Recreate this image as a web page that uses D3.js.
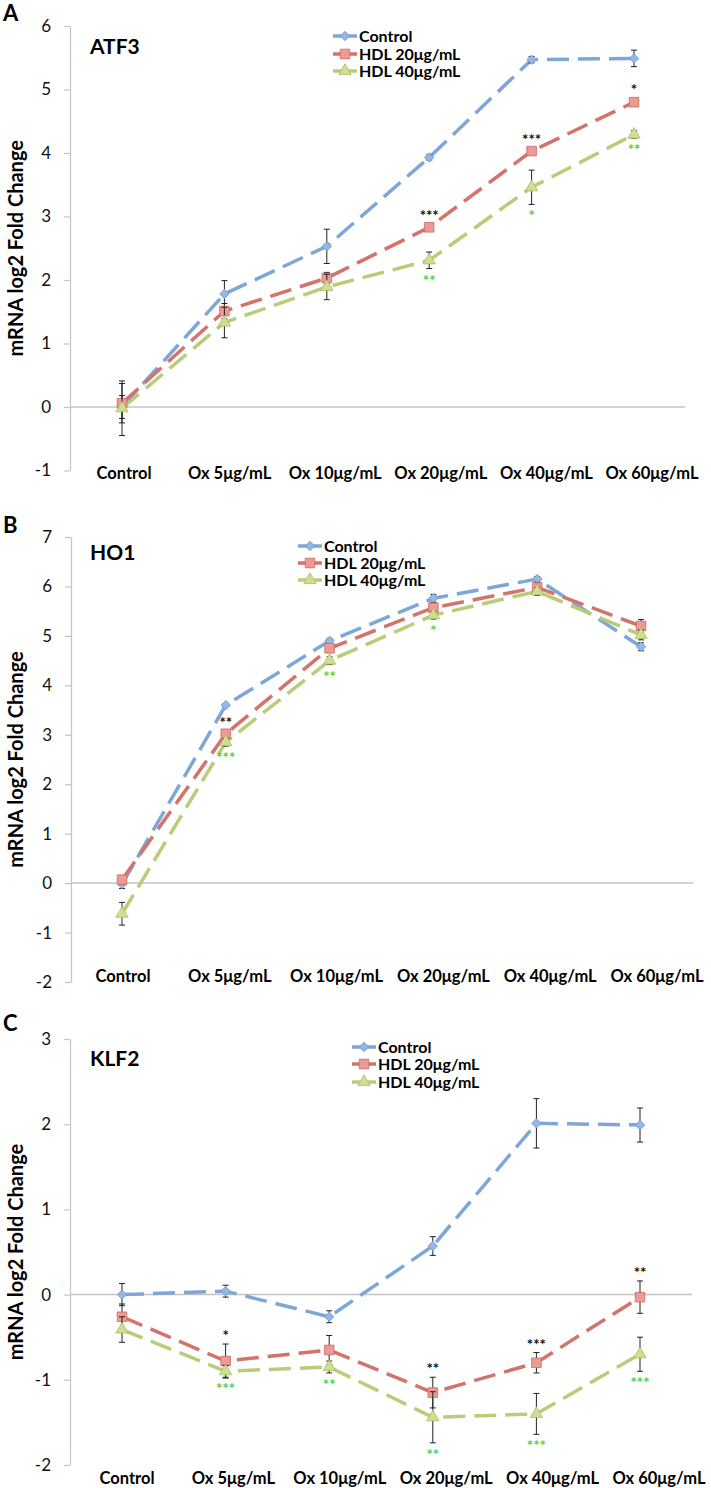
<!DOCTYPE html>
<html><head><meta charset="utf-8">
<script src="https://cdn.jsdelivr.net/npm/d3@7"></script>
<style>
body{margin:0;background:#fff}
svg{display:block}
text{font-family:Lato,"Open Sans",sans-serif}
</style>
</head><body>
<svg id="chart" width="711" height="1488"></svg>
<script>
// ---------- DATA ----------
const categories = ["Control","Ox 5μg/mL","Ox 10μg/mL","Ox 20μg/mL","Ox 40μg/mL","Ox 60μg/mL"];
const seriesNames = ["Control","HDL 20μg/mL","HDL 40μg/mL"];
const yTitle = "mRNA log2 Fold Change";

const atf3Ticks = [-1,0,1,2,3,4,5,6];
const atf3Control    = [0.00,1.78,2.53,3.93,5.47,5.49];
const atf3ControlErr = [0.18,0.21,0.27,0.04,0.05,0.13];
const atf3Hdl20      = [0.06,1.51,2.03,2.83,4.03,4.80];
const atf3Hdl20Err   = [0.31,0.12,0.09,0.05,0.05,0.06];
const atf3Hdl40      = [-0.02,1.33,1.89,2.31,3.46,4.29];
const atf3Hdl40Err   = [0.43,0.24,0.20,0.13,0.27,0.06];
const atf3StarsHdl20 = ["","","","***","***","*"];
const atf3StarsHdl40 = ["","","","**","*","**"];

const ho1Ticks = [-2,-1,0,1,2,3,4,5,6,7];
const ho1Control    = [-0.02,3.60,4.90,5.76,6.15,4.78];
const ho1ControlErr = [0.09,0.03,0.05,0.08,0.05,0.08];
const ho1Hdl20      = [0.07,3.02,4.75,5.57,5.98,5.20];
const ho1Hdl20Err   = [0.05,0.05,0.06,0.10,0.10,0.13];
const ho1Hdl40      = [-0.62,2.85,4.50,5.42,5.90,5.02];
const ho1Hdl40Err   = [0.23,0.08,0.08,0.08,0.08,0.10];
const ho1StarsHdl20 = ["","**","","","",""];
const ho1StarsHdl40 = ["","***","**","*","",""];

const klf2Ticks = [-2,-1,0,1,2,3];
const klf2Control    = [0.00,0.04,-0.26,0.57,2.01,1.99];
const klf2ControlErr = [0.13,0.07,0.07,0.11,0.29,0.20];
const klf2Hdl20      = [-0.26,-0.78,-0.65,-1.15,-0.80,-0.03];
const klf2Hdl20Err   = [0.15,0.20,0.17,0.18,0.12,0.19];
const klf2Hdl40      = [-0.41,-0.90,-0.85,-1.44,-1.40,-0.70];
const klf2Hdl40Err   = [0.15,0.07,0.07,0.30,0.24,0.20];
const klf2StarsHdl20 = ["","*","","**","***","**"];
const klf2StarsHdl40 = ["","***","**","**","***","***"];

// ---------- STYLE / LAYOUT ----------
const lineColors   = ["#7ea6d8","#d2736c","#b9cd78"];
const markerFills  = ["#93b8e6","#ec9a94","#cde08e"];
const markerStroke = ["#6f97cc","#c86a63","#a9bd68"];
const starColors   = ["#111111","#5ccc3a"];
const axisColor = "#c4c4c4";

const panels = [
  {letter:"A", letterY:21, gene:"ATF3", geneY:54, axisX:70, yTop:26, yBottom:470.5,
   ticks:atf3Ticks, values:[atf3Control,atf3Hdl20,atf3Hdl40], errs:[atf3ControlErr,atf3Hdl20Err,atf3Hdl40Err],
   stars:[atf3StarsHdl20,atf3StarsHdl40], xRange:[122,634], labelRange:[124,652], labelY:479, zeroEnd:685,
   legendX:333, legendY:[36,54,71]},
  {letter:"B", letterY:533, gene:"HO1", geneY:560, axisX:71, yTop:537, yBottom:982,
   ticks:ho1Ticks, values:[ho1Control,ho1Hdl20,ho1Hdl40], errs:[ho1ControlErr,ho1Hdl20Err,ho1Hdl40Err],
   stars:[ho1StarsHdl20,ho1StarsHdl40], xRange:[122,641], labelRange:[123,657], labelY:982, zeroEnd:693,
   legendX:298, legendY:[546,563,580]},
  {letter:"C", letterY:1031, gene:"KLF2", geneY:1066, axisX:70, yTop:1039, yBottom:1465,
   ticks:klf2Ticks, values:[klf2Control,klf2Hdl20,klf2Hdl40], errs:[klf2ControlErr,klf2Hdl20Err,klf2Hdl40Err],
   stars:[klf2StarsHdl20,klf2StarsHdl40], xRange:[122,640], labelRange:[127,659], labelY:1484, zeroEnd:692,
   legendX:352, legendY:[1047,1064,1082]}
];

const svg = d3.select("#chart");
svg.append("rect").attr("width",711).attr("height",1488).attr("fill","#fff");

const symbolGens = [
  d3.symbol().type(d3.symbolSquare).size(44),   // rotated -> diamond
  d3.symbol().type(d3.symbolSquare).size(92),
  d3.symbol().type(d3.symbolTriangle).size(66)
];
function drawMarker(g, si, x, y){
  g.append("path")
    .attr("d", symbolGens[si]())
    .attr("transform", `translate(${x},${y})` + (si===0 ? " rotate(45)" : ""))
    .attr("fill", markerFills[si])
    .attr("stroke", markerStroke[si])
    .attr("stroke-width", 0.8);
}

panels.forEach(p => {
  const g = svg.append("g");
  const lo = d3.min(p.ticks), hi = d3.max(p.ticks);
  const y = d3.scaleLinear().domain([lo,hi]).range([p.yBottom,p.yTop]);
  const x = d3.scalePoint().domain(categories).range(p.xRange);
  const xl = d3.scalePoint().domain(categories).range(p.labelRange);

  // panel letter
  g.append("text").attr("x",3).attr("y",p.letterY).text(p.letter)
    .attr("font-size",22).attr("font-weight","bold").attr("fill","#000");

  // y axis
  const ax = g.append("g").attr("transform",`translate(${p.axisX},0)`)
    .call(d3.axisLeft(y).tickValues(p.ticks).tickSize(6).tickSizeOuter(0).tickPadding(13).tickFormat(d3.format("d")));
  ax.select(".domain").attr("stroke",axisColor).attr("stroke-width",1.2);
  ax.selectAll(".tick line").attr("stroke",axisColor).attr("stroke-width",1.2);
  ax.selectAll(".tick text").attr("font-size",17).attr("fill","#111")
    .attr("font-family","Lato,sans-serif").text(d => d < 0 ? "-" + Math.abs(d) : d);

  // zero line
  g.append("line").attr("x1",p.axisX).attr("x2",p.zeroEnd).attr("y1",y(0)).attr("y2",y(0))
    .attr("stroke",axisColor).attr("stroke-width",1.5);

  // y title
  g.append("text").attr("transform",`translate(23,${(p.yTop+p.yBottom)/2}) rotate(-90)`)
    .attr("text-anchor","middle").attr("font-size",20).attr("font-weight","bold").text(yTitle);

  // gene label
  g.append("text").attr("x",90).attr("y",p.geneY).text(p.gene)
    .attr("font-size",21).attr("font-weight","bold");

  // category labels
  g.selectAll(".cat").data(categories).join("text")
    .attr("x",d=>xl(d)).attr("y",p.labelY).attr("text-anchor","middle")
    .attr("font-size",16.5).attr("font-weight","bold").text(d=>d);

  // series
  p.values.forEach((vals, si) => {
    const pts = categories.map((c,i)=>({c, v:vals[i], e:p.errs[si][i]}));
    const line = d3.line().x(d=>x(d.c)).y(d=>y(d.v));
    g.append("path").datum(pts).attr("d",line).attr("fill","none")
      .attr("stroke",lineColors[si]).attr("stroke-width",3.5)
      .attr("stroke-dasharray","22,9").attr("stroke-linecap","butt");
  });
  p.values.forEach((vals, si) => {
    const pts = categories.map((c,i)=>({c, v:vals[i], e:p.errs[si][i]}));
    pts.forEach(d => {
      const cx = x(d.c);
      const y1 = y(d.v + d.e), y2 = y(d.v - d.e);
      g.append("line").attr("x1",cx).attr("x2",cx).attr("y1",y1).attr("y2",y2).attr("stroke","#222").attr("stroke-width",1);
      [y1,y2].forEach(yy => g.append("line").attr("x1",cx-3).attr("x2",cx+3).attr("y1",yy).attr("y2",yy).attr("stroke","#222").attr("stroke-width",1));
    });
    pts.forEach(d => drawMarker(g, si, x(d.c), y(d.v)));
  });

  // significance stars
  p.stars.forEach((arr, k) => {
    const si = k + 1;
    arr.forEach((s, i) => {
      if (!s) return;
      const v = p.values[si][i], e = p.errs[si][i];
      const cx = x(categories[i]);
      const yy = k === 0 ? y(v + e) - 3 : y(v - e) + 17;
      g.append("text").attr("x",cx).attr("y",yy).attr("text-anchor","middle")
        .attr("font-size",15).attr("font-weight","bold").attr("fill",starColors[k]).text(s);
    });
  });

  // legend
  seriesNames.forEach((name, si) => {
    const ly = p.legendY[si];
    g.append("line").attr("x1",p.legendX).attr("x2",p.legendX+24).attr("y1",ly).attr("y2",ly)
      .attr("stroke",lineColors[si]).attr("stroke-width",3.5);
    drawMarker(g, si, p.legendX+12, ly);
    g.append("text").attr("x",p.legendX+26).attr("y",ly+5.5).text(name)
      .attr("font-size",16).attr("font-weight","bold");
  });
});
</script>
</body></html>
